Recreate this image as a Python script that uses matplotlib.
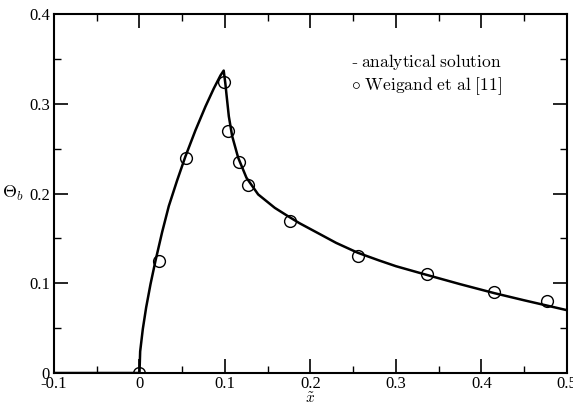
import matplotlib
matplotlib.use('Agg')
import matplotlib.pyplot as plt
from matplotlib.ticker import MultipleLocator

# analytical solution
curve_x = [-0.1, 0.0, 0.0008, 0.0039, 0.0078, 0.0129, 0.0187, 0.0265, 0.0343,
           0.044, 0.0538, 0.0655, 0.0772, 0.0869, 0.0947, 0.0985,
           0.1005, 0.1018, 0.1045, 0.1084, 0.1154, 0.1251, 0.1388, 0.1583,
           0.1716, 0.187, 0.2105, 0.23, 0.2553, 0.28, 0.30, 0.3353, 0.375,
           0.415, 0.45, 0.50]
curve_y = [0.0, 0.0, 0.024, 0.049, 0.073, 0.099, 0.125, 0.157, 0.186,
           0.2145, 0.2415, 0.2705, 0.297, 0.317, 0.3315, 0.337,
           0.322, 0.310, 0.286, 0.264, 0.240, 0.2176, 0.199, 0.184,
           0.176, 0.167, 0.155, 0.145, 0.134, 0.1255, 0.119, 0.1095, 0.099,
           0.089, 0.081, 0.070]

# Weigand et al [11]
ref_x = [0.0, 0.0226, 0.0545, 0.0994, 0.104, 0.116, 0.127, 0.1757, 0.256, 0.336, 0.415, 0.477]
ref_y = [0.0, 0.125, 0.240, 0.324, 0.270, 0.235, 0.210, 0.169, 0.130, 0.110, 0.090, 0.080]

plt.rcParams['font.family'] = 'Liberation Serif'
plt.rcParams['mathtext.fontset'] = 'cm'

fig = plt.figure(figsize=(5.73, 4.04), dpi=100)
ax = fig.add_axes([0.0942, 0.0767, 0.8953, 0.8886])

ax.plot(curve_x, curve_y, color='black', lw=1.8)
ax.plot(ref_x, ref_y, 'o', mfc='none', mec='black', ms=8.5, mew=1.0)

ax.set_xlim(-0.1, 0.5)
ax.set_ylim(0, 0.4)
ax.xaxis.set_major_locator(MultipleLocator(0.1))
ax.xaxis.set_minor_locator(MultipleLocator(0.05))
ax.yaxis.set_major_locator(MultipleLocator(0.1))
ax.yaxis.set_minor_locator(MultipleLocator(0.05))
ax.set_xticks([-0.1, 0, 0.1, 0.2, 0.3, 0.4, 0.5])
ax.set_xticklabels(['-0.1', '0', '0.1', '0.2', '0.3', '0.4', '0.5'])
ax.set_yticks([0, 0.1, 0.2, 0.3, 0.4])
ax.set_yticklabels(['0', '0.1', '0.2', '0.3', '0.4'])
ax.tick_params(which='both', direction='in', top=True, right=True, labelsize=12)
ax.tick_params(which='major', length=10, width=1.2)
ax.tick_params(which='minor', length=5, width=1.0)
ax.tick_params(axis='x', pad=2)
ax.tick_params(axis='y', pad=3)
for s in ax.spines.values():
    s.set_linewidth(1.5)

ax.set_xlabel(r'$\tilde{x}$', fontsize=11, va='center')
ax.xaxis.set_label_coords(0.5, -0.072)
ax.set_ylabel(r'$\Theta_b$', fontsize=13, rotation=0, va='center', ha='center')
ax.yaxis.set_label_coords(-0.08, 0.5)

ax.text(0.247, 0.341, r'- $\mathrm{analytical\ solution}$', fontsize=12.5)
ax.text(0.247, 0.315, r'$\circ\ \mathrm{Weigand\ et\ al\ [11]}$', fontsize=12.5)

fig.savefig('out.png', dpi=100)
